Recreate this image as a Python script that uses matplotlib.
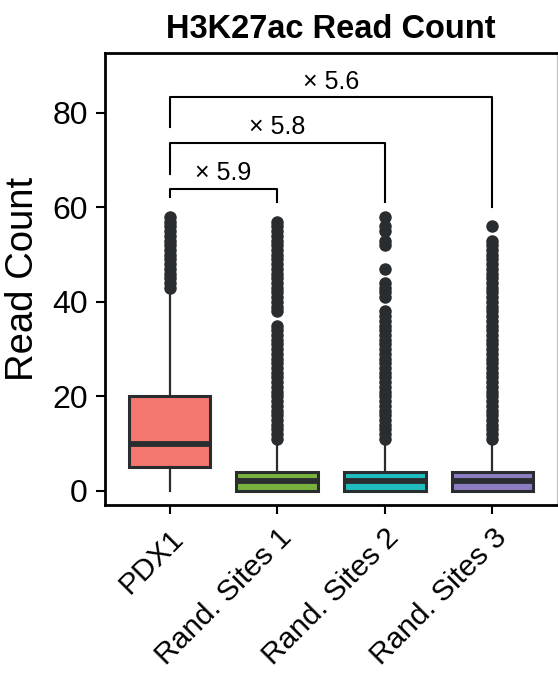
import matplotlib
matplotlib.use("Agg")
import matplotlib.pyplot as plt

plt.rcParams['font.family'] = ['Liberation Sans', 'DejaVu Sans']

# --- data ---
groups = ["PDX1", "Rand. Sites 1", "Rand. Sites 2", "Rand. Sites 3"]
colors = ["#F3776E", "#78B13C", "#1FBDBE", "#8E7CC3"]

q1 = [5, 0, 0, 0]
med = [10, 2, 2, 2]
q3 = [20, 4, 4, 4]
whis_lo = [0, 0, 0, 0]
whis_hi = [42, 10, 10, 10]

fliers = [
    list(range(43, 59)),
    list(range(11, 36)) + list(range(38, 58)),
    list(range(11, 39)) + [41, 42, 43, 44, 47, 52, 53, 55, 56, 58],
    list(range(11, 54)) + [56],
]

# significance brackets: (left group, right group, bar height, left leg end, right leg end, label)
br_left = [0, 0, 0]
br_right = [1, 2, 3]
br_top = [64, 73.7, 83.3]
br_lo_left = [62.2, 67, 77]
br_lo_right = [61.2, 61.2, 60.2]
br_text = ["\u00d7 5.9", "\u00d7 5.8", "\u00d7 5.6"]

edge = "#2A2D2F"

fig = plt.figure(figsize=(5.58, 6.73), dpi=100)
ax = fig.add_axes([105 / 558, 1 - 505 / 673, 452 / 558, 452 / 673])

stats = []
for i in range(len(groups)):
    stats.append(dict(label=groups[i], q1=q1[i], med=med[i], q3=q3[i],
                      whislo=whis_lo[i], whishi=whis_hi[i], fliers=[]))

bp = ax.bxp(stats, positions=range(len(groups)), widths=0.76,
            patch_artist=True, showcaps=False, showfliers=False,
            boxprops=dict(edgecolor=edge, linewidth=2.2),
            medianprops=dict(color=edge, linewidth=4.2),
            whiskerprops=dict(color=edge, linewidth=1.6))
for patch, c in zip(bp['boxes'], colors):
    patch.set_facecolor(c)

for i, vals in enumerate(fliers):
    ax.plot([i] * len(vals), vals, 'o', color=edge, markersize=9,
            markeredgewidth=0, zorder=3)

for l, r, top, lo_l, lo_r, txt in zip(br_left, br_right, br_top,
                                      br_lo_left, br_lo_right, br_text):
    ax.plot([l, l, r, r], [lo_l, top, top, lo_r], color='black', lw=1.5)
    ax.text((l + r) / 2, top + 0.8, txt, ha='center', va='bottom', fontsize=18)

ax.set_xlim(-0.6, 3.6)
ax.set_ylim(-3, 92.7)
ax.set_yticks([0, 20, 40, 60, 80])
ax.set_xticks(range(len(groups)))
ax.set_xticklabels(groups, rotation=45, ha='right', rotation_mode='anchor',
                   fontsize=21.5)
ax.tick_params(axis='y', labelsize=23, length=6.5, width=1.5, pad=6)
ax.tick_params(axis='x', length=6.5, width=1.5, pad=7)

ax.set_ylabel("Read Count", fontsize=27.5, labelpad=8)
ax.set_title("H3K27ac Read Count", fontsize=23.5, fontweight='bold', pad=11)

for s in ['left', 'bottom', 'top']:
    ax.spines[s].set_linewidth(2)
    ax.spines[s].set_color('black')
ax.spines['right'].set_color('#c8c8c8')
ax.spines['right'].set_linewidth(1)

fig.savefig("out.png", dpi=100)
plt.close(fig)
